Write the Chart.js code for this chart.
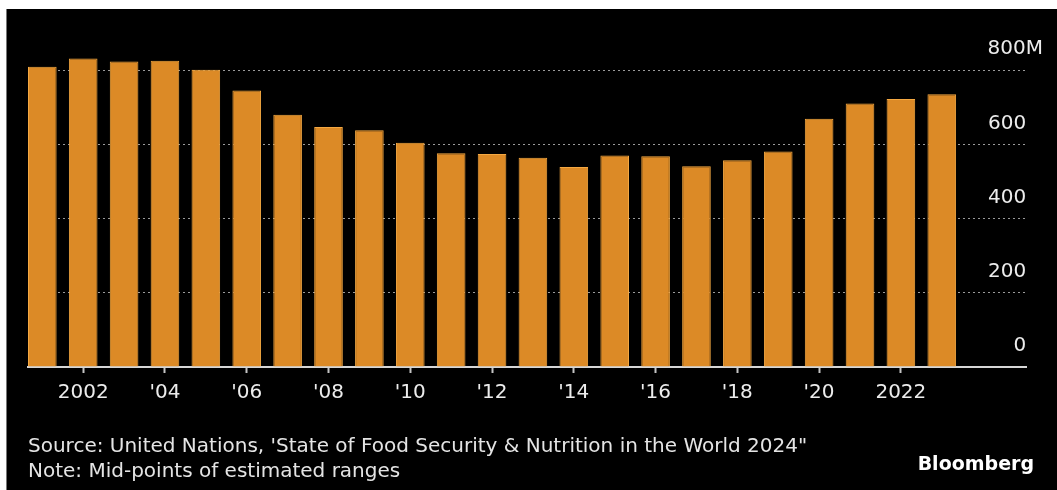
<!DOCTYPE html>
<html>
<head>
<meta charset="utf-8">
<script src="https://cdn.jsdelivr.net/npm/chart.js@4"></script>
<style>
  body { margin: 0; background: #fff; }
  #panel { position: absolute; left: 6px; top: 9px; width: 1051px; height: 481px; background: #000; border-left: 1px solid #777; }
  #wrap { position: absolute; left: 0; top: 0; width: 1057px; height: 490px; }
  .note { position: absolute; font-family: "DejaVu Sans", sans-serif; color: #e4e4e4; font-size: 20px; white-space: nowrap; }
  #brand { position: absolute; right: 23px; top: 452px; font-family: "DejaVu Sans", sans-serif; font-weight: bold; font-size: 19px; color: #fff; }
</style>
</head>
<body>
<div id="panel"></div>
<div id="wrap"><canvas id="foodChart" width="1057" height="490"></canvas></div>
<div class="note" style="left:28px; top:433px;">Source: United Nations, 'State of Food Security &amp; Nutrition in the World 2024"</div>
<div class="note" style="left:28px; top:458px;">Note: Mid-points of estimated ranges</div>
<div id="brand">Bloomberg</div>
<script>
// people facing hunger, millions (mid-points)
var years = [2001, 2002, 2003, 2004, 2005, 2006, 2007, 2008, 2009, 2010, 2011, 2012,
             2013, 2014, 2015, 2016, 2017, 2018, 2019, 2020, 2021, 2022, 2023];
var hungerValues = [809, 831, 823, 825, 801, 745, 680, 647, 638, 604, 576, 574,
                    564, 539, 570, 568, 541, 557, 581, 669, 710, 722, 735];

var xTickYears = [2002, 2004, 2006, 2008, 2010, 2012, 2014, 2016, 2018, 2020, 2022];
var xTickLabels = ['2002', "'04", "'06", "'08", "'10", "'12", "'14", "'16", "'18", "'20", '2022'];
var yTickValues = [0, 200, 400, 600, 800];
var yTickLabels = ['0', '200', '400', '600', '800M'];

var barFill = 'rgb(220, 138, 38)';
var barEdge = 'rgb(244, 168, 66)';

var ctx = document.getElementById('foodChart').getContext('2d');
var myChart = new Chart(ctx, {
    type: 'bar',
    data: {
        datasets: [{
            label: 'Hunger',
            data: years.map((y, i) => ({ x: y, y: hungerValues[i] })),
            backgroundColor: barFill,
            borderColor: barEdge,
            borderWidth: 1,
            categoryPercentage: 1,
            barPercentage: 0.7
        }]
    },
    options: {
        responsive: false,
        animation: false,
        layout: { padding: { left: 28, right: -3, top: 33, bottom: 77 } },
        plugins: {
            legend: { display: false },
            tooltip: { enabled: false }
        },
        scales: {
            x: {
                type: 'linear',
                min: 2000.65,
                max: 2025.06,
                offset: false,
                // ticks sit one year before each label; the offset grid marks land between them
                afterBuildTicks: (scale) => {
                    scale.ticks = xTickYears.map(v => ({ value: v - 1 }));
                },
                grid: {
                    drawOnChartArea: false,
                    drawTicks: true,
                    tickLength: 6,
                    tickWidth: 2,
                    tickColor: '#c4c4c4'
                },
                border: { display: true, color: '#d6d6d6', width: 2 },
                ticks: {
                    autoSkip: false,
                    maxRotation: 0,
                    padding: 8,
                    labelOffset: 40.86,
                    color: '#ececec',
                    font: { family: 'DejaVu Sans', size: 20 },
                    callback: (value) => {
                        var i = xTickYears.indexOf(value + 1);
                        return i >= 0 ? xTickLabels[i] : '';
                    }
                }
            },
            y: {
                position: 'right',
                min: 0,
                max: 900,
                afterBuildTicks: (scale) => {
                    scale.ticks = yTickValues.map(v => ({ value: v }));
                },
                grid: {
                    color: '#9a9a9a',
                    lineWidth: 1,
                    drawTicks: false,
                    tickLength: 0
                },
                border: { display: false, dash: [2, 3] },
                ticks: {
                    mirror: true,
                    padding: 17,
                    labelOffset: -21,
                    color: '#ececec',
                    font: { family: 'DejaVu Sans', size: 20 },
                    callback: (value) => {
                        var i = yTickValues.indexOf(value);
                        if (i < 0) return '';
                        var lab = yTickLabels[i];
                        // pad plain numbers so they line up with the "800" of "800M"
                        return lab.indexOf('M') >= 0 ? lab : lab + '\u2007\u2009';
                    }
                }
            }
        }
    }
});
</script>
</body>
</html>
